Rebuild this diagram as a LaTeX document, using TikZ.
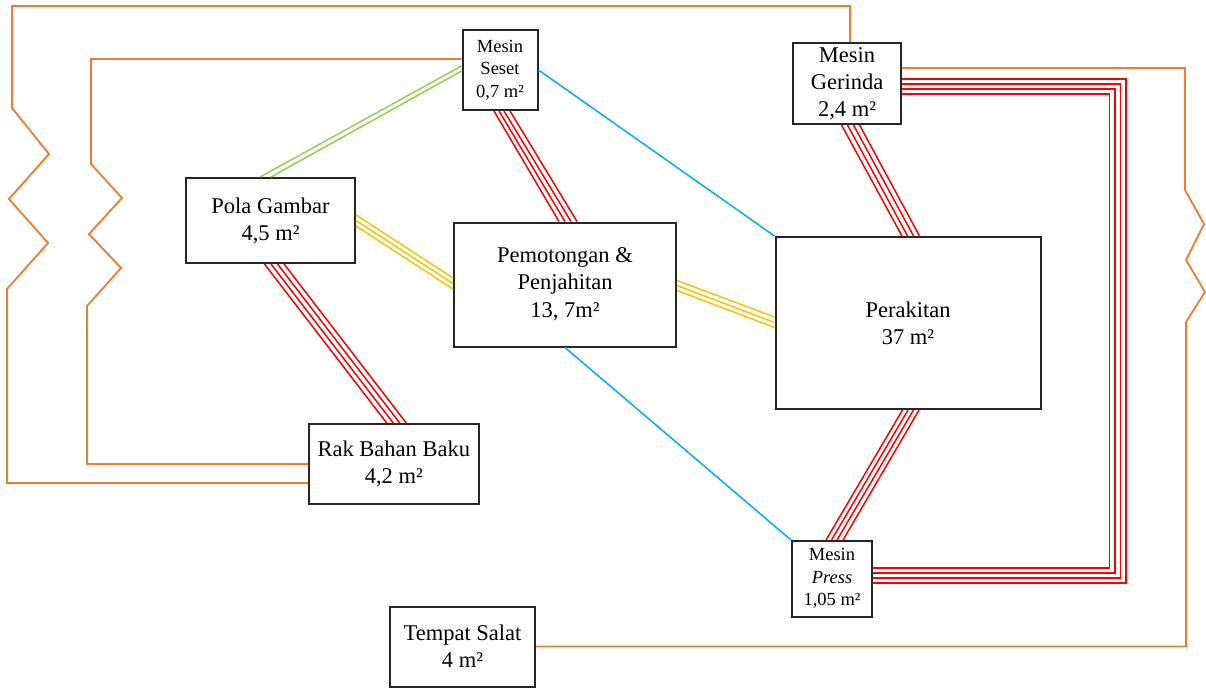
\documentclass[tikz,border=0pt]{standalone}
\usepackage{fontspec}
\setmainfont{Liberation Serif}
\usetikzlibrary{calc}
\definecolor{orl}{RGB}{237,125,49}
\definecolor{redl}{RGB}{255,0,0}
\definecolor{yell}{RGB}{255,192,0}
\definecolor{grnl}{RGB}{146,208,80}
\definecolor{blul}{RGB}{0,176,240}
\begin{document}
\begin{tikzpicture}[x=1pt,y=-1pt,
 box/.style={draw=black!85, line width=2pt, fill=white, align=center, inner sep=0pt, font=\fontsize{22.5}{27}\selectfont},
 smallbox/.style={box, font=\fontsize{18.5}{22.5}\selectfont},
 rl/.style={draw=redl, line width=1.5pt},
 yl/.style={draw=yell, line width=1.5pt},
 gl/.style={draw=grnl, line width=1.5pt},
 bl/.style={draw=blul, line width=1.5pt},
 ol/.style={draw=orl, line width=1.8pt, line join=miter},
]
\useasboundingbox (0,0) rectangle (1206,689);

% nodes
\node[smallbox, minimum width=75pt, minimum height=80pt] (seset) at (500,70) {Mesin\\Seset\\0,7 m²};
\node[box, minimum width=108pt, minimum height=81pt] (gerinda) at (847,83.5) {Mesin\\Gerinda\\2,4 m²};
\node[box, minimum width=169pt, minimum height=85pt] (pola) at (270.5,220.5) {Pola Gambar\\4,5 m²};
\node[box, minimum width=222pt, minimum height=124pt, font=\fontsize{22.5}{27.8}\selectfont] (pemot) at (565,284.5) {Pemotongan \&\\Penjahitan\\13, 7m²\rule[-4pt]{0pt}{1pt}};
\node[box, minimum width=265pt, minimum height=172pt] (perakitan) at (908,323) {Perakitan\\37 m²};
\node[box, minimum width=169.5pt, minimum height=80pt] (rak) at (393.75,464) {Rak Bahan Baku\\4,2 m²};
\node[smallbox, minimum width=80pt, minimum height=75.5pt] (press) at (832,578.75) {Mesin\\\textit{Press}\\1,05 m²};
\node[box, minimum width=145pt, minimum height=80pt] (salat) at (462.5,646.5) {Tempat Salat\\4 m²};

% red: Seset -> Pemotongan
\foreach \a/\b in {-6/-6, -1/0, 4/6, 10/12}
  \draw[rl] ($(seset.south)+(\a,0)$) -- ($(pemot.north)+(\b,0)$);
% red: Pola -> Rak
\foreach \a/\b in {-6/-7, 0.5/-0.5, 7/6, 13.5/12.5}
  \draw[rl] ($(pola.south)+(\a,0)$) -- ($(rak.north)+(\b,0)$);
% red: Gerinda -> Perakitan
\foreach \a/\b in {-5.5/-6, 0.5/-0.5, 6.5/5.5, 12.5/11.5}
  \draw[rl] ($(gerinda.south)+(\a,0)$) -- ($(perakitan.north)+(\b,0)$);
% red: Perakitan -> Press
\foreach \a/\b in {-5.5/-6, 0/-0.5, 5.5/5, 11/11}
  \draw[rl] ($(perakitan.south)+(\a,0)$) -- ($(press.north)+(\b,0)$);
% red: Gerinda -> Press (L shape)
\foreach \a/\x/\b in {-4.5/1125/4.25, 0.5/1119.5/-0.75, 5.5/1114/-5.75, 10.5/1108.5/-10.75}
  \draw[rl, line join=miter] ($(gerinda.east)+(0,\a)$) -- ($(gerinda.east)+(\x-901,\a)$) |- ($(press.east)+(0,\b)$);

% yellow
\foreach \a/\b in {-5.5/-6.5, 0/-1, 5.5/4.5}
  \draw[yl] ($(pola.east)+(0,\a)$) -- ($(pemot.west)+(0,\b)$);
\foreach \a/\b in {-4/-6, 1/-0.5, 6/4.5}
  \draw[yl] ($(pemot.east)+(0,\a)$) -- ($(perakitan.west)+(0,\b)$);

% green
\draw[gl] ($(seset.west)+(0,-4)$) -- ($(pola.north)+(-10.5,0)$);
\draw[gl] ($(seset.west)+(0,1)$) -- ($(pola.north)+(0.5,0)$);

% blue
\draw[bl] (seset.east) -- (perakitan.north west);
\draw[bl] (pemot.south) -- (press.north west);

% orange
\draw[ol] ($(gerinda.north)+(3,0)$) -- ++(0,-36) -| (12,108) -- (49,154) -- (9,199) -- (48,243) -- (7,289) |- ($(rak.west)+(0,19)$);
\draw[ol] ($(seset.west)+(0,-11)$) -| (91,164) -- (122,198) -- (89,234) -- (121,268) -- (87,306) |- (rak.west);
\draw[ol] ($(gerinda.east)+(0,-15.5)$) -| (1185,190) -- (1204,224) -- (1186,260) -- (1205,292) -- (1186,322) |- (salat.east);
\end{tikzpicture}
\end{document}
